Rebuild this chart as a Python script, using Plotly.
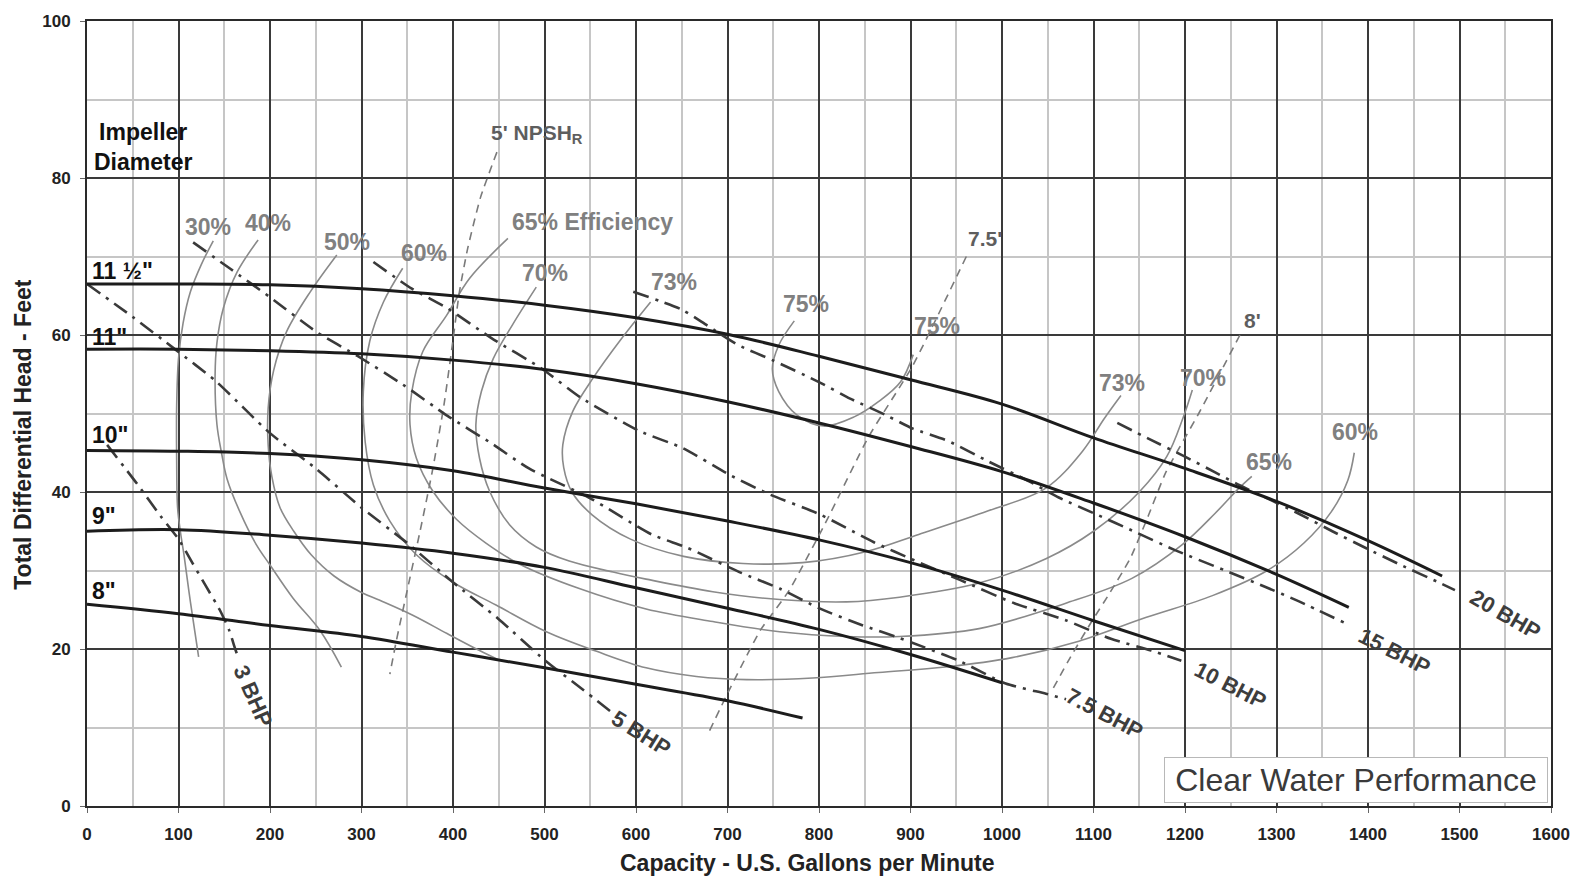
import plotly.graph_objects as go

# ---------------- data (GPM, feet) ----------------
# impeller head-capacity curves
imp_115_q = [0, 100, 200, 300, 400, 500, 600, 700, 800, 900, 1000, 1100, 1200, 1300, 1400, 1481]
imp_115_h = [66.5, 66.5, 66.4, 65.9, 65.0, 63.8, 62.2, 60.1, 57.3, 54.3, 51.2, 46.9, 43.0, 38.8, 33.8, 29.3]
imp_11_q = [0, 100, 200, 300, 400, 500, 600, 700, 800, 900, 1000, 1100, 1200, 1300, 1379]
imp_11_h = [58.2, 58.2, 58.0, 57.6, 56.8, 55.6, 53.8, 51.5, 48.8, 45.8, 42.6, 38.6, 34.3, 29.5, 25.3]
imp_10_q = [0, 100, 200, 300, 400, 500, 600, 700, 800, 900, 1000, 1100, 1200]
imp_10_h = [45.3, 45.2, 44.9, 44.1, 42.7, 40.5, 38.5, 36.3, 33.9, 31.0, 27.5, 23.6, 19.8]
imp_9_q = [0, 100, 200, 300, 400, 500, 600, 700, 800, 900, 1000]
imp_9_h = [35.0, 35.2, 34.5, 33.5, 32.2, 30.4, 27.8, 25.2, 22.5, 19.3, 15.7]
imp_8_q = [0, 100, 200, 300, 400, 500, 600, 700, 782]
imp_8_h = [25.7, 24.5, 23.0, 21.6, 19.6, 17.6, 15.5, 13.4, 11.2]

# efficiency contours
eff30_q = [138, 125, 113, 105, 100, 98, 98, 99, 102, 106, 113, 122]
eff30_h = [72.0, 69.0, 65.5, 61.5, 57.0, 51.0, 44.0, 38.0, 35.0, 32.0, 26.0, 19.0]
eff40_q = [187, 164, 149, 142, 140, 142, 147, 153, 167, 185, 200, 225, 255, 278]
eff40_h = [72.1, 68.0, 63.4, 59.0, 54.9, 48.6, 45.0, 41.7, 37.5, 33.3, 30.7, 26.5, 22.3, 17.7]
eff50_q = [273, 244, 218, 204, 198, 198, 202, 211, 226, 245, 270, 300, 320, 356, 393, 429, 450]
eff50_h = [70.2, 65.5, 60.4, 55.5, 50.7, 46.0, 42.0, 38.0, 35.0, 32.0, 29.3, 27.2, 26.2, 24.3, 22.0, 19.8, 18.6]
eff60_q = [345, 324, 309, 302, 304, 313, 331, 360, 400, 447, 502, 557, 611, 666, 721, 793, 865,
           938, 1011, 1084, 1157, 1230, 1290, 1330, 1360, 1378, 1385]
eff60_h = [68.5, 64.2, 59.2, 52.8, 46.4, 40.9, 36.3, 32.0, 28.5, 25.6, 22.2, 19.7, 17.6, 16.5, 16.1, 16.3, 17.0,
           17.7, 18.9, 21.0, 24.0, 26.8, 30.0, 33.5, 37.5, 41.5, 45.0]
eff65_q = [460, 418, 393, 367, 355, 353, 360, 378, 404, 436, 473, 538, 611, 684, 757, 830, 888,
           975, 1069, 1142, 1197, 1233, 1259, 1273]
eff65_h = [72.3, 67.2, 62.5, 57.9, 52.8, 48.6, 44.3, 40.1, 36.5, 33.5, 30.8, 27.7, 25.1, 23.5, 22.2, 21.6, 21.6,
           22.6, 25.8, 29.0, 33.3, 37.3, 40.5, 42.0]
eff70_q = [491, 465, 444, 431, 425, 429, 440, 462, 491, 527, 575, 611, 684, 757, 830, 888, 975,
           1048, 1100, 1150, 1180, 1198, 1208]
eff70_h = [66.1, 61.3, 57.0, 52.8, 48.6, 44.3, 40.1, 35.8, 33.0, 31.2, 29.8, 28.9, 27.3, 26.3, 26.0, 26.6, 28.4,
           31.5, 35.0, 40.0, 44.5, 49.5, 53.0]
eff73_q = [616, 582, 553, 531, 520, 521, 530, 552, 594, 652, 717, 782, 851, 909, 985, 1048, 1088, 1112, 1130]
eff73_h = [64.2, 59.2, 54.5, 50.3, 46.0, 43.1, 40.0, 37.1, 34.0, 31.8, 30.9, 31.0, 32.4, 34.6, 37.6, 40.5, 45.2, 49.4, 52.3]
eff75_q = [773, 756, 749, 756, 776, 805, 839, 865, 889, 903]
eff75_h = [61.8, 58.7, 55.7, 52.8, 49.8, 48.4, 49.6, 51.5, 54.0, 57.5]

# brake horsepower lines
bhp3_q = [22, 55, 80, 100, 115, 130, 145, 155, 162, 165]
bhp3_h = [46.0, 41.0, 37.0, 34.0, 31.0, 28.0, 25.0, 22.5, 20.0, 19.0]
bhp5_q = [0, 50, 96, 140, 200, 250, 300, 350, 400, 450, 500, 540, 575]
bhp5_h = [66.5, 62.3, 58.2, 54.2, 47.5, 43.0, 38.0, 33.5, 28.5, 23.8, 18.6, 15.0, 11.8]
bhp75_q = [116, 157, 199, 252, 296, 345, 394, 442, 483, 550, 617, 656, 713, 757, 800, 848, 888, 953, 1004, 1048, 1070]
bhp75_h = [71.8, 68.4, 64.9, 60.3, 57.3, 53.7, 49.7, 46.2, 43.0, 39.2, 34.6, 32.9, 29.8, 27.7, 25.2, 23.0, 21.4,
           18.5, 15.6, 14.3, 13.6]
bhp10_q = [313, 355, 394, 442, 496, 540, 603, 651, 702, 746, 800, 860, 904, 954, 1014, 1069, 1119, 1163, 1196]
bhp10_h = [69.3, 65.9, 63.4, 59.6, 55.8, 52.0, 47.8, 45.6, 42.2, 39.7, 37.2, 33.6, 31.3, 28.8, 25.8, 23.7, 21.3, 19.8, 18.5]
bhp15_q = [597, 649, 678, 712, 749, 800, 834, 873, 902, 941, 985, 1029, 1062, 1106, 1142, 1189, 1244, 1288, 1324, 1375]
bhp15_h = [65.5, 63.3, 61.2, 58.7, 56.8, 54.0, 51.9, 49.8, 48.1, 46.5, 43.9, 41.4, 39.3, 37.0, 35.1, 32.6, 30.0, 27.9, 26.1, 23.3]
bhp20_q = [1126, 1160, 1200, 1233, 1259, 1288, 1325, 1361, 1397, 1434, 1477, 1495]
bhp20_h = [48.8, 46.8, 44.5, 42.5, 40.9, 39.3, 37.2, 35.0, 32.9, 30.8, 28.5, 27.5]

# NPSH required lines
npsh5_q = [448, 430, 416, 407, 399, 390, 378, 364, 350, 338, 331]
npsh5_h = [83.3, 77.5, 71.0, 65.5, 58.5, 51.0, 43.0, 35.0, 27.5, 21.0, 16.8]
npsh75_q = [961, 902, 854, 809, 767, 736, 702, 680]
npsh75_h = [70.0, 56.0, 47.0, 36.5, 27.4, 22.4, 14.8, 9.5]
npsh8_q = [1260, 1215, 1179, 1160, 1140, 1117, 1098, 1075, 1055]
npsh8_h = [60.0, 50.0, 42.5, 37.0, 31.5, 27.0, 23.5, 19.0, 14.8]

# ---------------- styles ----------------
C_HEAD = "#1c1c1c"
C_BHP = "#3a3a3a"
C_EFF = "#8a8a8a"
C_NPSH = "#7a7a7a"
FONT = "Liberation Sans, Arial, sans-serif"
DASHDOT = "16px,7px,3px,7px"

fig = go.Figure()


def add_line(q, h, color, width, dash="solid", shape="spline", smoothing=1.0):
    line = dict(color=color, width=width, dash=dash, shape=shape)
    if shape == "spline":
        line["smoothing"] = smoothing
    fig.add_trace(go.Scatter(x=q, y=h, mode="lines", line=line, hoverinfo="skip", showlegend=False))


for q, h in [(eff30_q, eff30_h), (eff40_q, eff40_h), (eff50_q, eff50_h), (eff60_q, eff60_h),
             (eff65_q, eff65_h), (eff70_q, eff70_h), (eff73_q, eff73_h), (eff75_q, eff75_h)]:
    add_line(q, h, C_EFF, 1.6)

for q, h in [(npsh5_q, npsh5_h), (npsh75_q, npsh75_h), (npsh8_q, npsh8_h)]:
    add_line(q, h, C_NPSH, 1.6, dash="8px,6px", shape="spline", smoothing=0.5)

for q, h in [(bhp3_q, bhp3_h), (bhp5_q, bhp5_h), (bhp75_q, bhp75_h), (bhp10_q, bhp10_h),
             (bhp15_q, bhp15_h), (bhp20_q, bhp20_h)]:
    add_line(q, h, C_BHP, 2.6, dash=DASHDOT, shape="spline", smoothing=0.6)

for q, h in [(imp_115_q, imp_115_h), (imp_11_q, imp_11_h), (imp_10_q, imp_10_h),
             (imp_9_q, imp_9_h), (imp_8_q, imp_8_h)]:
    add_line(q, h, C_HEAD, 3.0)

# ---------------- labels ----------------
ann = []


def label(text, x, y, color, size, angle=0, xanchor="center", bold=True, family=FONT):
    ann.append(dict(text=text, x=x, y=y, xref="x", yref="y", showarrow=False, textangle=angle,
                    xanchor=xanchor, yanchor="middle",
                    font=dict(family=family, size=size, color=color, weight="bold" if bold else "normal")))


impeller_labels = ['11 ½"', '11"', '10"', '9"', '8"']
impeller_label_y = [68.1, 59.8, 47.2, 37.0, 27.4]
for t, yy in zip(impeller_labels, impeller_label_y):
    label(t, 3, yy, "#111111", 23, xanchor="left")
label("Impeller<br>Diameter", 5, 83.9, "#111111", 23, xanchor="left")

eff_labels = ["30%", "40%", "50%", "60%", "65% Efficiency", "70%", "73%", "75%", "75%", "73%", "70%", "65%", "60%"]
eff_label_x = [132, 198, 284, 368, 552, 501, 642, 786, 929, 1131, 1220, 1292, 1386]
eff_label_y = [73.8, 74.3, 71.9, 70.4, 74.4, 67.9, 66.7, 63.9, 61.1, 53.9, 54.5, 43.8, 47.6]
for t, xx, yy in zip(eff_labels, eff_label_x, eff_label_y):
    label(t, xx, yy, "#808080", 23)

bhp_labels = ["3 BHP", "5 BHP", "7.5 BHP", "10 BHP", "15 BHP", "20 BHP"]
bhp_label_x = [182, 606, 1112, 1250, 1429, 1550]
bhp_label_y = [14.0, 9.3, 11.8, 15.4, 19.7, 24.4]
bhp_label_angle = [66, 32, 28, 27, 27, 30]
for t, xx, yy, a in zip(bhp_labels, bhp_label_x, bhp_label_y, bhp_label_angle):
    label(t, xx, yy, "#3d3d3d", 22, angle=a)

npsh_labels = ["5' NPSH<sub>R</sub>", "7.5'", "8'"]
npsh_label_x = [492, 981, 1274]
npsh_label_y = [85.6, 72.3, 61.9]
for t, xx, yy in zip(npsh_labels, npsh_label_x, npsh_label_y):
    label(t, xx, yy, "#5e5e5e", 21)

ann.append(dict(text="Clear Water Performance", x=1597, y=3.3, xref="x", yref="y", showarrow=False,
                xanchor="right", yanchor="middle", width=378, height=40, borderpad=2,
                bordercolor="#b8b8b8", borderwidth=1, bgcolor="white",
                font=dict(family=FONT, size=32, color="#3a3a3a")))

# axis titles
ann.append(dict(text="Capacity - U.S. Gallons per Minute", x=0.492, y=-0.072, xref="paper", yref="paper",
                showarrow=False, xanchor="center", yanchor="middle",
                font=dict(family=FONT, size=23, color="#222222", weight="bold")))
ann.append(dict(text="Total Differential Head - Feet", x=-0.0437, y=0.473, xref="paper", yref="paper",
                showarrow=False, xanchor="center", yanchor="middle", textangle=-90,
                font=dict(family=FONT, size=23, color="#222222", weight="bold")))

axis_common = dict(showgrid=True, gridcolor="#3a3a3a", gridwidth=1.7, zeroline=False,
                   showline=True, linecolor="#2a2a2a", linewidth=2, mirror=True,
                   ticks="outside", ticklen=5, tickcolor="#666666", tickwidth=1,
                   tickfont=dict(family=FONT, size=17, color="#222222", weight="bold"))

fig.update_layout(
    width=1589, height=878,
    margin=dict(l=87, r=38, t=17, b=72),
    paper_bgcolor="white", plot_bgcolor="white",
    annotations=ann,
    xaxis=dict(range=[0, 1600], tick0=0, dtick=100, ticklabelstandoff=7,
               minor=dict(dtick=50, showgrid=True, gridcolor="#c6c6c6", gridwidth=1.6), **axis_common),
    yaxis=dict(range=[0, 100], tick0=0, dtick=20, ticklabelstandoff=6,
               minor=dict(dtick=10, showgrid=True, gridcolor="#c6c6c6", gridwidth=1.6), **axis_common),
)

fig.write_html("out.html", config={"displayModeBar": False},
               post_script="document.body.style.margin='0';document.body.style.overflow='hidden';")
